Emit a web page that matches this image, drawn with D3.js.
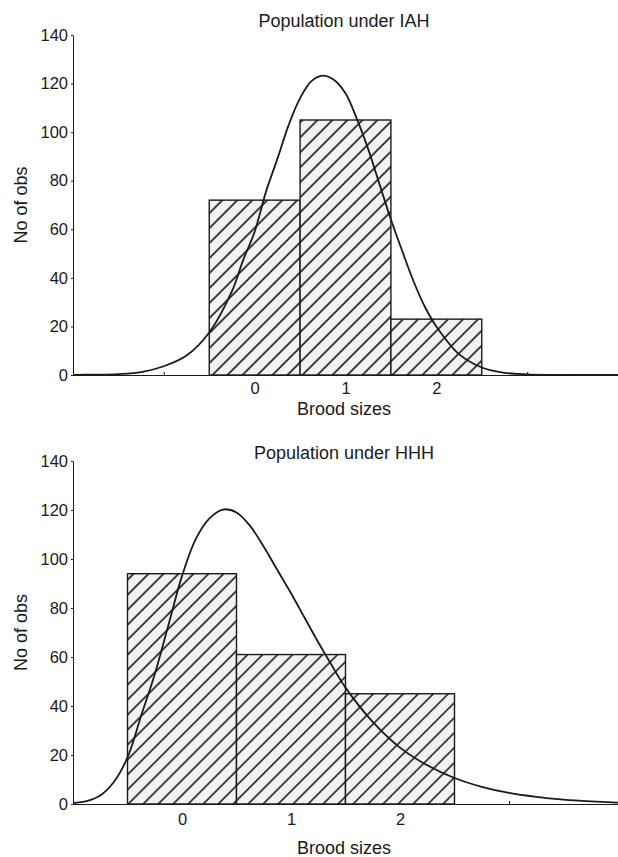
<!DOCTYPE html>
<html>
<head>
<meta charset="utf-8">
<script src="https://cdn.jsdelivr.net/npm/d3@7"></script>
<style>
  html, body { margin: 0; padding: 0; background: #fff; }
  svg { display: block; }
  text { font-family: "Liberation Sans", Arial, Helvetica, sans-serif; fill: #1a1a1a; }
</style>
</head>
<body>
<svg id="chart" width="618" height="857"></svg>
<script>
// ---------- data ----------
const categories = [0, 1, 2];
const iahCounts = [72, 105, 23];
const hhhCounts = [94, 61, 45];

const iahCurveX = [-2, -1.75, -1.5, -1.25, -1, -0.75, -0.5, -0.25, -0.125, 0, 0.125, 0.25, 0.375, 0.5, 0.625, 0.75, 0.875, 1, 1.125, 1.25, 1.375, 1.5, 1.625, 1.75, 1.875, 2, 2.25, 2.5, 2.75, 3, 3.25, 3.5, 4];
const iahCurveY = [0.05, 0.15, 0.4, 1.2, 3.6, 8, 17.5, 34.5, 47.5, 59, 75.5, 89, 103, 114, 121, 123.3, 121.5, 116, 105.5, 93, 78.5, 64, 51, 38.5, 28, 20, 8.6, 3.1, 0.9, 0.25, 0.05, 0.01, 0];

const hhhCurveX = [-1, -0.875, -0.75, -0.625, -0.5, -0.375, -0.25, -0.125, 0, 0.125, 0.25, 0.375, 0.5, 0.625, 0.75, 0.875, 1, 1.125, 1.25, 1.375, 1.5, 1.75, 2, 2.25, 2.5, 2.75, 3, 3.25, 3.5, 3.75, 4];
const hhhCurveY = [0.4, 1.2, 3.5, 9, 19, 36, 53, 73, 93, 108, 116.5, 120.2, 119, 113.5, 105, 95.5, 86, 76, 66, 56.5, 47.5, 33.5, 23, 15.8, 10.6, 7, 4.5, 2.9, 1.8, 1.1, 0.6];

const yTicks = [0, 20, 40, 60, 80, 100, 120, 140];
const xTickLabels = [0, 1, 2];
const titles = ["Population under IAH", "Population under HHH"];
const xLabel = "Brood sizes";
const yLabel = "No of obs";

// ---------- drawing ----------
const svg = d3.select("#chart");
const defs = svg.append("defs");
const pat = defs.append("pattern")
  .attr("id", "hatch")
  .attr("patternUnits", "userSpaceOnUse")
  .attr("width", 10.6).attr("height", 10.6)
  .attr("patternTransform", "rotate(45)");
pat.append("rect").attr("width", 10.6).attr("height", 10.6).attr("fill", "#f2f2f2");
pat.append("line").attr("x1", 2).attr("y1", 0).attr("x2", 2).attr("y2", 10.6)
  .attr("stroke", "#2e2e2e").attr("stroke-width", 1.8);

const panels = [
  { title: titles[0], counts: iahCounts, cx: iahCurveX, cy: iahCurveY,
    xDomain: [-2, 4], xTicks: [-1, 0, 1, 2, 3], top: 35, bottom: 375,
    titleY: 26.5, tickPad: 7, xLabelY: 415 },
  { title: titles[1], counts: hhhCounts, cx: hhhCurveX, cy: hhhCurveY,
    xDomain: [-1, 4], xTicks: [-1, 0, 1, 2, 3], top: 461, bottom: 804,
    titleY: 458.5, tickPad: 9.3, xLabelY: 854 }
];

const left = 73, right = 618;

panels.forEach(p => {
  const g = svg.append("g");
  const x = d3.scaleLinear().domain(p.xDomain).range([left, right]);
  const y = d3.scaleLinear().domain([0, 140]).range([p.bottom, p.top]);

  // y axis
  const ya = g.append("g").attr("transform", `translate(${left},0)`)
    .call(d3.axisLeft(y).tickValues(yTicks).tickSize(2).tickPadding(3).tickSizeOuter(0));
  ya.selectAll("text").attr("font-size", 16.5).attr("font-family", "Liberation Sans, Arial, sans-serif").attr("fill", "#1a1a1a");
  ya.selectAll("path,line").attr("stroke", "#1a1a1a").attr("stroke-width", 1);

  // x axis
  const xa = g.append("g").attr("transform", `translate(0,${p.bottom})`)
    .call(d3.axisBottom(x).tickValues(p.xTicks).tickSize(-3).tickPadding(p.tickPad).tickSizeOuter(0)
      .tickFormat(d => xTickLabels.includes(d) ? String(d) : ""));
  xa.selectAll("text").attr("font-size", 16.5).attr("font-family", "Liberation Sans, Arial, sans-serif").attr("fill", "#1a1a1a");
  xa.selectAll("path,line").attr("stroke", "#1a1a1a").attr("stroke-width", 1);

  // bars
  g.selectAll("rect.bar").data(categories).join("rect")
    .attr("class", "bar")
    .attr("x", d => x(d - 0.5))
    .attr("width", d => x(d + 0.5) - x(d - 0.5))
    .attr("y", (d, i) => y(p.counts[i]))
    .attr("height", (d, i) => y(0) - y(p.counts[i]))
    .attr("fill", "url(#hatch)")
    .attr("stroke", "#1a1a1a")
    .attr("stroke-width", 1.4);

  // fitted curve
  const pts = p.cx.map((v, i) => [v, p.cy[i]]);
  g.append("path")
    .datum(pts)
    .attr("fill", "none")
    .attr("stroke", "#1a1a1a")
    .attr("stroke-width", 1.8)
    .attr("d", d3.line().x(d => x(d[0])).y(d => y(d[1])).curve(d3.curveCatmullRom.alpha(0.5)));

  // title
  g.append("text").attr("x", 344).attr("y", p.titleY)
    .attr("text-anchor", "middle").attr("font-size", 18).text(p.title);

  // x label
  g.append("text").attr("x", 344).attr("y", p.xLabelY)
    .attr("text-anchor", "middle").attr("font-size", 18).text(xLabel);

  // y label
  g.append("text")
    .attr("transform", `translate(27,${(p.top + p.bottom) / 2}) rotate(-90)`)
    .attr("text-anchor", "middle").attr("font-size", 18).text(yLabel);
});
</script>
</body>
</html>
